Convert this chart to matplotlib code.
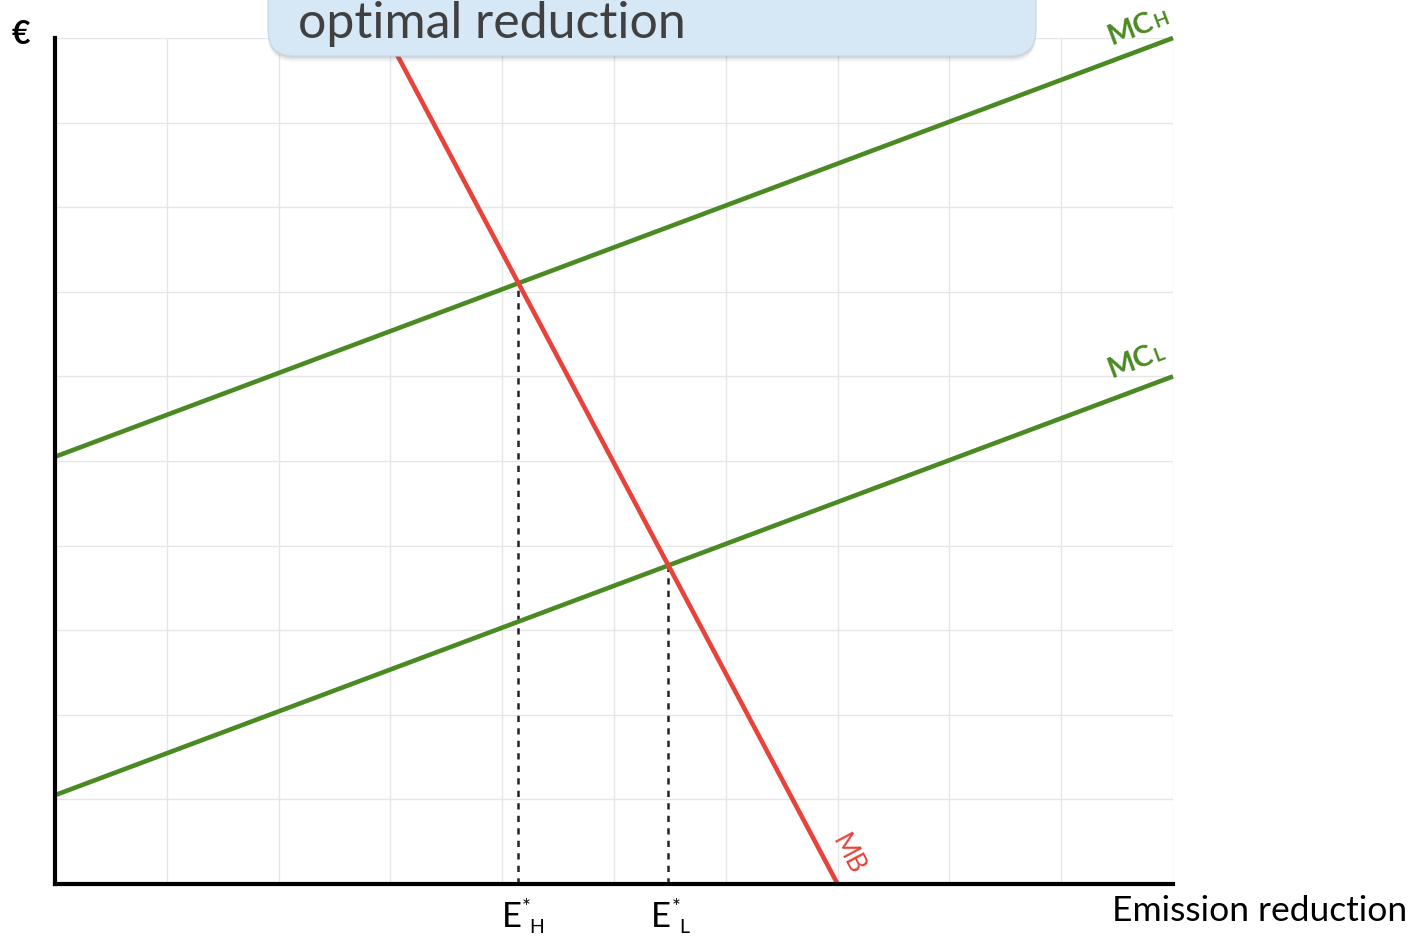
import numpy as np
import matplotlib
matplotlib.use("Agg")
import matplotlib.pyplot as plt
from matplotlib.patches import FancyBboxPatch

plt.rcParams['font.family'] = ['Lato', 'DejaVu Sans']

# ---- data ----
x_range = [0, 10]
mc_high = [5.05, 10.0]   # marginal cost (high) at x=0 and x=10
mc_low = [1.05, 6.0]     # marginal cost (low) at x=0 and x=10
mb_x = [2.98, 7.0]       # marginal benefit line x at top / bottom
mb_y = [10.0, 0.0]

GREEN = '#4a8a22'
RED = '#e8423a'
LW = 3.3

W, H = 1414, 938
fig = plt.figure(figsize=(W / 100, H / 100), dpi=100)
ax = fig.add_axes([55 / W, 1 - 884 / H, (1173 - 55) / W, (884 - 38) / H])
ax.set_xlim(0, 10)
ax.set_ylim(0, 10)
ax.set_xticks(np.arange(0, 11, 1))
ax.set_yticks(np.arange(0, 11, 1))
ax.tick_params(length=0, labelbottom=False, labelleft=False)
ax.grid(True, color='#e6e6e6', lw=1)
ax.set_axisbelow(True)
for s in ['top', 'right']:
    ax.spines[s].set_visible(False)
for s in ['left', 'bottom']:
    ax.spines[s].set_linewidth(3.0)
    ax.spines[s].set_color('black')
    ax.spines[s].set_zorder(5)

ax.plot(x_range, mc_high, color=GREEN, lw=LW, solid_capstyle='butt', zorder=3, clip_on=False)
ax.plot(x_range, mc_low, color=GREEN, lw=LW, solid_capstyle='butt', zorder=3, clip_on=False)
mb_slope = (mb_y[1] - mb_y[0]) / (mb_x[1] - mb_x[0])
# MB line, extended above the plot (hidden behind the title box)
ax.plot([mb_x[0] + (11 - mb_y[0]) / mb_slope, mb_x[1]], [11, mb_y[1]], color=RED, lw=LW,
        solid_capstyle='butt', clip_on=False, zorder=3)

def intersect(line_y):
    s = (line_y[1] - line_y[0]) / (x_range[1] - x_range[0])
    b = line_y[0]
    xi = (b + mb_slope * mb_x[1]) / (mb_slope - s)
    return xi, b + s * xi

xh, yh = intersect(mc_high)
xl, yl = intersect(mc_low)
for xi, yi in [(xh, yh), (xl, yl)]:
    ax.plot([xi, xi], [0, yi], color='#222222', lw=1.8, ls=(0, (2.5, 2.5)), zorder=2)

# axis labels
ax.annotate('€', xy=(0, 1), xycoords='axes fraction', xytext=(-43, 3), textcoords='offset pixels',
            ha='left', va='center', fontsize=23, fontweight='bold', color='black')
ax.annotate('Emission reduction', xy=(1, 0), xycoords='axes fraction', xytext=(-61, -27),
            textcoords='offset pixels', ha='left', va='center', fontsize=25.5, color='black')

for xi, sub in [(xh, 'H'), (xl, 'L')]:
    ax.annotate('E', xy=(xi, 0), xycoords=('data', 'axes fraction'), xytext=(3, -17),
                textcoords='offset pixels', ha='right', va='top', fontsize=25)
    ax.annotate('*', xy=(xi, 0), xycoords=('data', 'axes fraction'), xytext=(3, -14),
                textcoords='offset pixels', ha='left', va='top', fontsize=15)
    ax.annotate(sub, xy=(xi, 0), xycoords=('data', 'axes fraction'), xytext=(11, -35),
                textcoords='offset pixels', ha='left', va='top', fontsize=14)

# curve labels
ang = np.degrees(np.arctan2((mc_high[1] - mc_high[0]) * 84.6, 10 * 111.8))
renderer = fig.canvas.get_renderer()
for yv, sub, dy in [(mc_high[1], 'H', -7), (mc_low[1], 'L', -2)]:
    t = ax.annotate('MC', xy=(10, yv), xytext=(-61, dy), textcoords='offset pixels',
                    rotation=0, ha='left', va='baseline',
                    fontsize=21, fontweight='bold', color=GREEN, annotation_clip=False)
    d = t.get_window_extent(renderer).width + 1
    t.set_rotation(ang)
    t.set_rotation_mode('anchor')
    ax.annotate(sub, xy=(10, yv),
                xytext=(-61 + d * np.cos(np.radians(ang)), dy + d * np.sin(np.radians(ang))),
                textcoords='offset pixels', rotation=ang, rotation_mode='anchor', ha='left',
                va='baseline', fontsize=14, fontweight='bold', color=GREEN, annotation_clip=False)

mb_ang = np.degrees(np.arctan2(mb_slope * 84.6, 111.8))
ax.annotate('MB', xy=(mb_x[1], 0), xytext=(-6, 44), textcoords='offset pixels',
            rotation=mb_ang, rotation_mode='anchor', ha='left', va='baseline',
            fontsize=19, color=RED, annotation_clip=False)

# title box overlay in pixel coordinates
ov = fig.add_axes([0, 0, 1, 1])
ov.set_xlim(0, W)
ov.set_ylim(H, 0)
ov.axis('off')
for i, a in enumerate([0.04, 0.06, 0.08, 0.12]):
    off = 6 - i * 1.5
    ov.add_patch(FancyBboxPatch((268, -60 + off), 768, 116, boxstyle='round,pad=0,rounding_size=26',
                                fc='#555555', ec='none', alpha=a))
ov.add_patch(FancyBboxPatch((268, -60), 768, 116, boxstyle='round,pad=0,rounding_size=26',
                            fc='#d6e7f5', ec='#c6d9ea', lw=0.8))
ov.text(298, 38, 'optimal reduction', ha='left', va='baseline', fontsize=36, color='#404040')

fig.savefig('out.png', dpi=100)
